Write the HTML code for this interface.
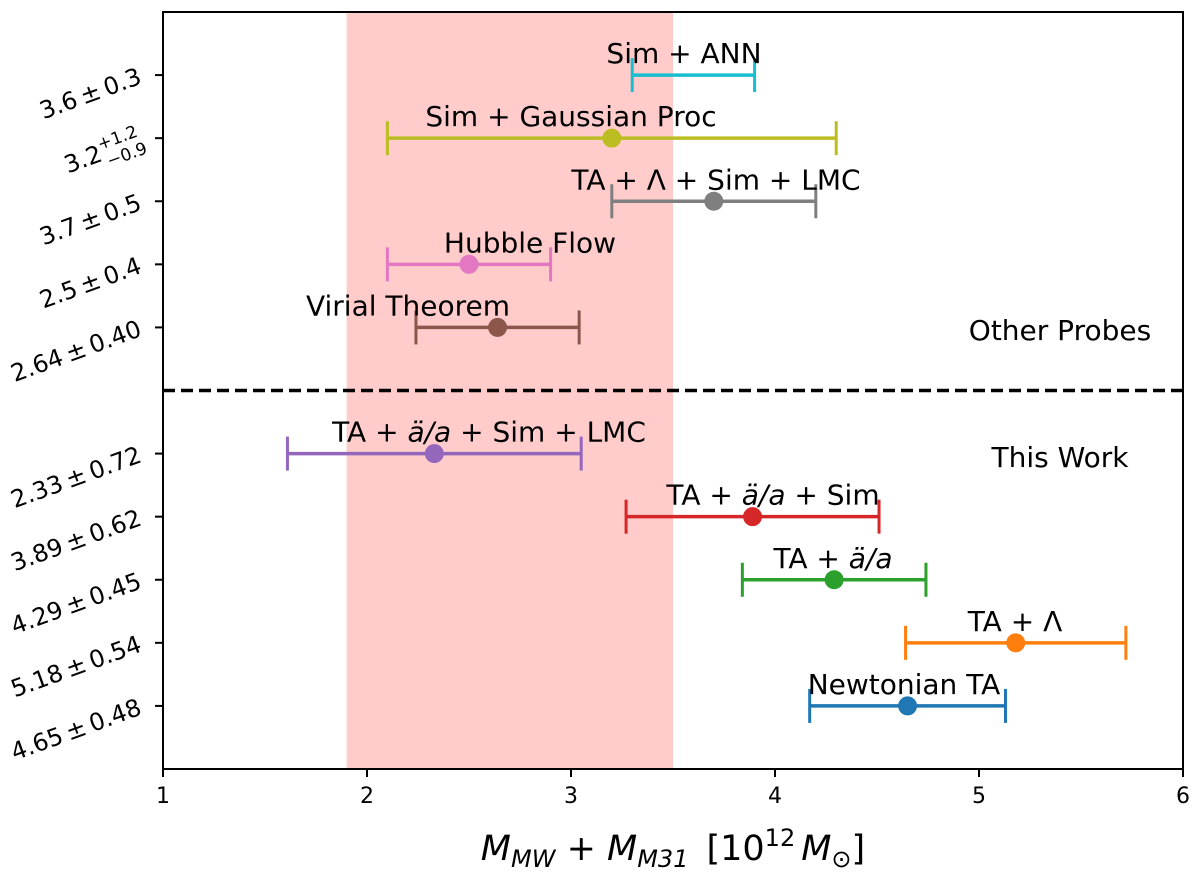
<!DOCTYPE html>
<html><head><meta charset="utf-8"><style>
html,body{margin:0;padding:0;background:#fff;}
svg{display:block;font-family:"DejaVu Sans","Liberation Sans",sans-serif;}
</style></head><body>
<svg id="chart" width="1200" height="878" xmlns="http://www.w3.org/2000/svg"></svg>
<script>
const labels = ["Sim + ANN","Sim + Gaussian Proc","TA + Λ + Sim + LMC","Hubble Flow","Virial Theorem",null,"TA + ä/a + Sim + LMC","TA + ä/a + Sim","TA + ä/a","TA + Λ","Newtonian TA"];
const centers = [3.6,3.2,3.7,2.5,2.64,null,2.33,3.89,4.29,5.18,4.65];
const lows = [3.3,2.1,3.2,2.1,2.24,null,1.61,3.27,3.84,4.64,4.17];
const highs = [3.9,4.3,4.2,2.9,3.04,null,3.05,4.51,4.74,5.72,5.13];
const showMarker = [false,true,true,true,true,null,true,true,true,true,true];
const colors = ["#17becf","#bcbd22","#7f7f7f","#e377c2","#8c564b",null,"#9467bd","#d62728","#2ca02c","#ff7f0e","#1f77b4"];
const tickText = ["3.6 ± 0.3","3.2","3.7 ± 0.5","2.5 ± 0.4","2.64 ± 0.40",null,"2.33 ± 0.72","3.89 ± 0.62","4.29 ± 0.45","5.18 ± 0.54","4.65 ± 0.48"];
const xTicks = [1,2,3,4,5,6];
const band = [1.9,3.5];
// label text centre positions (layout, pixels)
const labelX = [684,571,716,530,408,null,489,773,833,1015,904];

const NS="http://www.w3.org/2000/svg";
const svg=document.getElementById('chart');
const L=163,R=1183,T=12,B=769;
const xs=v=>L+(v-1)/(6-1)*(R-L);
const ys=i=>T+(i+1)*(B-T)/12;
function mk(tag,attrs,parent){const e=document.createElementNS(NS,tag);for(const k in attrs)e.setAttribute(k,attrs[k]);(parent||svg).appendChild(e);return e;}

const bandEl=mk('rect',{x:xs(band[0]),y:T,width:xs(band[1])-xs(band[0]),height:B-T,fill:'#ffcccb'});



const dash=mk('line',{x1:L,x2:R,y1:ys(5),y2:ys(5),stroke:'#000','stroke-width':3.5,'stroke-dasharray':'12,6'});



for(let i=0;i<labels.length;i++){
  if(labels[i]===null)continue;
  const g=mk('g',{});
  
  
  const y=ys(i),c=colors[i];
  mk('line',{x1:xs(lows[i]),x2:xs(highs[i]),y1:y,y2:y,stroke:c,'stroke-width':3.5},g);
  mk('line',{x1:xs(lows[i]),x2:xs(lows[i]),y1:y-17,y2:y+17,stroke:c,'stroke-width':3},g);
  mk('line',{x1:xs(highs[i]),x2:xs(highs[i]),y1:y-17,y2:y+17,stroke:c,'stroke-width':3},g);
  if(showMarker[i]) mk('circle',{cx:xs(centers[i]),cy:y,r:9.5,fill:c},g);
  const t=mk('text',{x:labelX[i],y:y-12,'text-anchor':'middle','font-size':28,fill:'#000'});
  
  
  const parts=labels[i].split('ä/a');
  if(parts.length>1){
    t.appendChild(document.createTextNode(parts[0]));
    const s=mk('tspan',{'font-style':'italic'},t);s.textContent='ä/a';
    t.appendChild(document.createTextNode(parts[1]));
  } else t.textContent=labels[i];
  mk('line',{x1:L-8,x2:L,y1:y,y2:y,stroke:'#000','stroke-width':2});
  const ax=143,ay=y+8;
  const yt=mk('text',{x:ax,y:ay,'text-anchor':'end','font-size':24,transform:`rotate(-20 ${ax} ${ay})`});
  
  
  if(i===1){
    yt.textContent='3.2';
    const t1=mk('tspan',{'font-size':17,dy:-11},yt);t1.textContent='+1.2';
    const t2=mk('tspan',{'font-size':17,dx:-38,dy:19},yt);t2.textContent='−0.9';
    yt.setAttribute('text-anchor','start');
    yt.setAttribute('x',ax-80);
  } else yt.textContent=tickText[i].replace(/ ± /,'\u2009±\u2009');
}

const other=mk('text',{x:1060,y:340,'text-anchor':'middle','font-size':28});other.textContent='Other Probes';


const tw=mk('text',{x:1060,y:467,'text-anchor':'middle','font-size':28});tw.textContent='This Work';



for(const v of xTicks){
  mk('line',{x1:xs(v),x2:xs(v),y1:B,y2:B+8,stroke:'#000','stroke-width':2});
  const t=mk('text',{x:xs(v),y:B+34,'text-anchor':'middle','font-size':22});t.textContent=v;
  
  
}
const frame=mk('rect',{x:L,y:T,width:R-L,height:B-T,fill:'none',stroke:'#000','stroke-width':2});



const xl=mk('text',{x:673,y:860,'text-anchor':'middle','font-size':35});


xl.setAttribute('xml:space','preserve');
xl.innerHTML='<tspan font-style="italic">M</tspan><tspan font-style="italic" font-size="24" dy="7">MW</tspan><tspan dy="-7"> + </tspan><tspan font-style="italic">M</tspan><tspan font-style="italic" font-size="24" dy="7">M31</tspan><tspan dy="-7" dx="18">[10</tspan><tspan font-size="24" dy="-14">12</tspan><tspan dy="14" dx="6" font-style="italic">M</tspan><tspan font-size="24" dy="7">⊙</tspan><tspan dy="-7">]</tspan>';
</script>
</body></html>
